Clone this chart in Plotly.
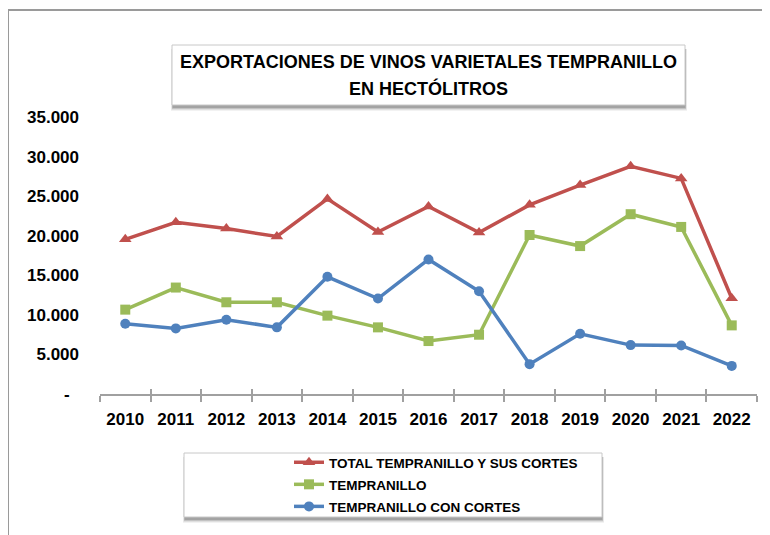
import plotly.graph_objects as go

years = ["2010", "2011", "2012", "2013", "2014", "2015", "2016", "2017", "2018", "2019", "2020", "2021", "2022"]
total = [19540, 21700, 20900, 19900, 24650, 20470, 23690, 20400, 23900, 26400, 28770, 27240, 12100]
tempranillo = [10660, 13450, 11590, 11590, 9900, 8420, 6690, 7490, 20090, 18690, 22720, 21110, 8670]
con_cortes = [8880, 8290, 9390, 8420, 14810, 12060, 17000, 12980, 3770, 7610, 6180, 6130, 3550]

ytick_vals = [0, 5000, 10000, 15000, 20000, 25000, 30000, 35000]
ytick_text = ["-\u00a0\u00a0", "5.000", "10.000", "15.000", "20.000", "25.000", "30.000", "35.000"]

names = ["TOTAL TEMPRANILLO Y SUS CORTES", "TEMPRANILLO", "TEMPRANILLO CON CORTES"]
colors = ["#C0504D", "#9BBB59", "#4F81BD"]
symbols = ["triangle-up", "square", "circle"]
sizes = [11, 10, 10]
title_lines = ["EXPORTACIONES DE VINOS VARIETALES TEMPRANILLO", "EN HECTÓLITROS"]

W, H = 770, 535
OFF = 8  # page body margin
# target screen positions of the plot area
SX0, SX1, SY0, SY1 = 100, 757, 117, 394
L, T = SX0 - OFF, SY0 - OFF
R, B = W - (SX1 - OFF), H - (SY1 - OFF)
PW, PH = SX1 - SX0, SY1 - SY0


def px(x):
    return (x - SX0) / PW


def py(y):
    return (SY1 - y) / PH


FONT = "Liberation Sans, Arial, sans-serif"

fig = go.Figure()
for i, (name, vals, c, s, sz) in enumerate(zip(names, [total, tempranillo, con_cortes], colors, symbols, sizes)):
    fig.add_trace(go.Scatter(
        x=years, y=vals, name=name, mode="lines+markers", legendgroup=f"g{i}",
        line=dict(color=c, width=3.5),
        marker=dict(symbol=s, size=sz, color=c),
    ))

shapes = []
# outer chart border
shapes.append(dict(type="rect", xref="paper", yref="paper",
                   x0=px(8), x1=px(790), y0=py(10), y1=py(560),
                   line=dict(color="#9a9a9a", width=2), fillcolor="rgba(0,0,0,0)", layer="below"))


def shadow_box(x0, y0, x1, y1):
    out = []
    for i, op in enumerate([0.05, 0.08, 0.12, 0.16]):
        d = 4 - i
        out.append(dict(type="rect", xref="paper", yref="paper",
                        x0=px(x0 + 1 - d * 0.5), x1=px(x1 + d * 0.5),
                        y0=py(y1 + 2 + d), y1=py(y0 + 4),
                        line=dict(width=0), fillcolor=f"rgba(0,0,0,{op})", layer="below"))
    out.append(dict(type="rect", xref="paper", yref="paper",
                    x0=px(x0), x1=px(x1), y0=py(y1), y1=py(y0),
                    line=dict(color="#c8c8c8", width=1), fillcolor="white", layer="below"))
    return out


shapes += shadow_box(172, 45, 685, 105)
shapes += shadow_box(184, 453, 602, 517)

annotations = []
for txt, yy in zip(title_lines, [62, 89]):
    annotations.append(dict(xref="paper", yref="paper", x=px(428), y=py(yy),
                            text=txt, showarrow=False, xanchor="center", yanchor="middle",
                            font=dict(family=FONT, size=18, color="black", weight="bold")))

fig.update_layout(
    width=W, height=H,
    margin=dict(l=L, r=R, t=T, b=B, autoexpand=False),
    paper_bgcolor="white", plot_bgcolor="white",
    shapes=shapes,
    annotations=annotations,
    showlegend=True,
    legend=dict(x=px(289), y=py(447), xanchor="left", yanchor="top",
                bgcolor="rgba(0,0,0,0)", borderwidth=0,
                font=dict(family=FONT, size=13.5, color="black", weight="bold"),
                tracegroupgap=1.5, itemwidth=30),
    xaxis=dict(type="category", categoryorder="array", categoryarray=years,
               range=[-0.5, 12.5], showgrid=False, showline=True,
               linecolor="#a0a0a0", linewidth=1.5,
               ticks="outside", tickson="boundaries", ticklen=6, tickcolor="#a0a0a0", tickwidth=1.5,
               ticklabelstandoff=9,
               tickfont=dict(family=FONT, size=17, color="black", weight="bold"),
               zeroline=False),
    xaxis2=dict(type="linear", overlaying="x", anchor="y", side="bottom",
                range=[-0.5, 12.5], tickvals=[i - 0.5 for i in range(14)],
                ticks="inside", ticklen=5, tickcolor="#a0a0a0", tickwidth=1.5,
                showticklabels=False, showgrid=False, showline=False, zeroline=False),
    yaxis=dict(range=[0, 35000], tickvals=ytick_vals, ticktext=ytick_text,
               showgrid=False, showline=False, zeroline=False, ticks="",
               ticklabelstandoff=20,
               tickfont=dict(family=FONT, size=17, color="black", weight="bold")),
)
fig.add_trace(go.Scatter(x=[0], y=[None], xaxis="x2", yaxis="y", showlegend=False, hoverinfo="skip"))

fig.write_html("out.html")
